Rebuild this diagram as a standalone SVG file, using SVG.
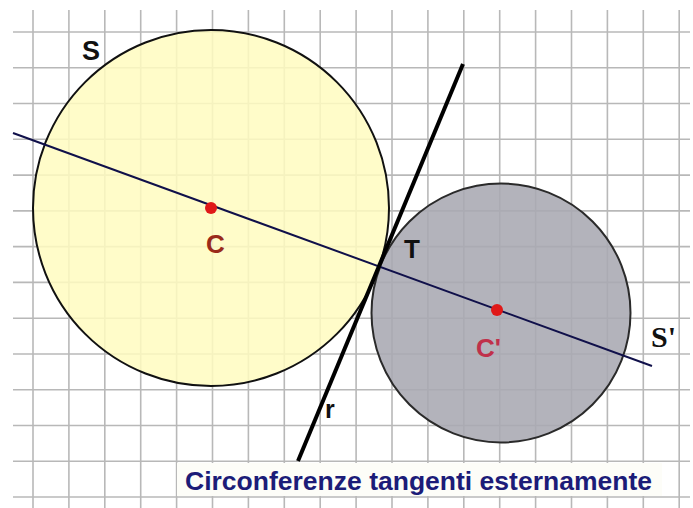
<svg xmlns="http://www.w3.org/2000/svg" width="693" height="508" viewBox="0 0 693 508">
<style>
.grid line{stroke:#b8b8b8;stroke-width:1.6}
.lbl{font-family:"Liberation Sans",Arial,sans-serif;font-weight:bold}
.serif{font-family:"Liberation Serif","Times New Roman",serif;font-weight:bold}
</style>
<rect width="693" height="508" fill="#ffffff"/>
<g id="grid" class="grid">
<line x1="33" y1="10" x2="33" y2="508"/><line x1="68.9" y1="10" x2="68.9" y2="508"/><line x1="104.8" y1="10" x2="104.8" y2="508"/><line x1="140.7" y1="10" x2="140.7" y2="508"/><line x1="176.6" y1="10" x2="176.6" y2="508"/><line x1="212.5" y1="10" x2="212.5" y2="508"/><line x1="248.4" y1="10" x2="248.4" y2="508"/><line x1="284.3" y1="10" x2="284.3" y2="508"/><line x1="320.2" y1="10" x2="320.2" y2="508"/><line x1="356.1" y1="10" x2="356.1" y2="508"/><line x1="392" y1="10" x2="392" y2="508"/><line x1="427.9" y1="10" x2="427.9" y2="508"/><line x1="463.8" y1="10" x2="463.8" y2="508"/><line x1="499.7" y1="10" x2="499.7" y2="508"/><line x1="535.6" y1="10" x2="535.6" y2="508"/><line x1="571.5" y1="10" x2="571.5" y2="508"/><line x1="607.4" y1="10" x2="607.4" y2="508"/><line x1="643.3" y1="10" x2="643.3" y2="508"/><line x1="679.2" y1="10" x2="679.2" y2="508"/>
<line x1="13" y1="32" x2="690" y2="32"/><line x1="13" y1="67.8" x2="690" y2="67.8"/><line x1="13" y1="103.5" x2="690" y2="103.5"/><line x1="13" y1="139.3" x2="690" y2="139.3"/><line x1="13" y1="175.1" x2="690" y2="175.1"/><line x1="13" y1="210.9" x2="690" y2="210.9"/><line x1="13" y1="246.6" x2="690" y2="246.6"/><line x1="13" y1="282.4" x2="690" y2="282.4"/><line x1="13" y1="318.2" x2="690" y2="318.2"/><line x1="13" y1="354" x2="690" y2="354"/><line x1="13" y1="389.7" x2="690" y2="389.7"/><line x1="13" y1="425.5" x2="690" y2="425.5"/><line x1="13" y1="461.3" x2="690" y2="461.3"/><line x1="13" y1="497" x2="690" y2="497"/>
</g>
<g id="circle-S">
<circle cx="211" cy="208" r="178" fill="#fffcc0" fill-opacity="0.85" stroke="#111111" stroke-width="2"/>
<text class="lbl" x="82" y="60" font-size="27" fill="#111111">S</text>
</g>
<g id="circle-S2">
<circle cx="501" cy="313" r="129.5" fill="#a8a8b2" fill-opacity="0.88" stroke="#2a2a2a" stroke-width="2"/>
<text class="serif" x="651" y="347" font-size="30" fill="#111111">S'</text>
</g>
<g id="connectors">
<line id="center-line" x1="13" y1="133" x2="652" y2="366" stroke="#10104a" stroke-width="2"/>
<line id="tangent-r" x1="463" y1="64" x2="298" y2="461" stroke="#000000" stroke-width="4"/>
</g>
<g id="point-C">
<circle cx="211" cy="208" r="6" fill="#e01818"/>
<text class="lbl" x="206" y="253" font-size="26" fill="#9a2a1a">C</text>
</g>
<g id="point-C2">
<circle cx="497" cy="310" r="6" fill="#e01818"/>
<text class="lbl" x="476" y="357" font-size="26" fill="#c0304a">C'</text>
</g>
<g id="point-T">
<text class="lbl" x="404" y="258" font-size="26" fill="#111111">T</text>
</g>
<g id="label-r">
<text class="lbl" x="325" y="418" font-size="25" fill="#111111">r</text>
</g>
<g id="title">
<rect x="177" y="463" width="485" height="33" fill="#fdfdf8"/>
<text class="lbl" x="185" y="490" font-size="25" fill="#1c1c78" textLength="467" lengthAdjust="spacingAndGlyphs">Circonferenze tangenti esternamente</text>
</g>
</svg>
